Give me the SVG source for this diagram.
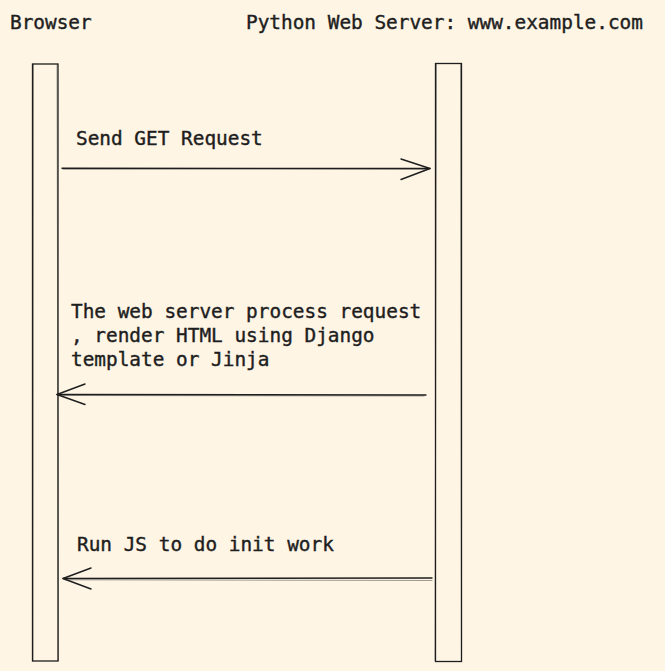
<svg xmlns="http://www.w3.org/2000/svg" width="665" height="671" viewBox="0 0 665 671">
<style>
.bg{fill:#fef5e5}
.box{fill:none;stroke:#1e1e1e;stroke-width:1.3}
.sk{fill:none;stroke:#1e1e1e;stroke-width:0.6;opacity:0.7}
.ln{fill:none;stroke:#1e1e1e;stroke-width:1.4;stroke-linecap:round;stroke-linejoin:round}
.ln2{fill:none;stroke:#1e1e1e;stroke-width:0.7;opacity:0.6;stroke-linecap:round}
text{font-family:"DejaVu Sans Mono","Liberation Mono",monospace;font-size:19.4px;fill:#1e1e1e;stroke:#1e1e1e;stroke-width:0.4}
</style>
<rect class="bg" x="0" y="0" width="665" height="671"/>
<g id="browser">
<text x="10" y="29">Browser</text>
<rect class="box" x="32.5" y="64" width="25.5" height="597"/>
<path class="sk" d="M33.5 63.5 L33 661.5 M57 64.5 L58.5 661"/>
</g>
<g id="server">
<text x="246" y="29">Python Web Server: www.example.com</text>
<rect class="box" x="435.5" y="63.5" width="26" height="598"/>
<path class="sk" d="M436.5 64 L435 661 M460.5 63 L461.5 661.5"/>
</g>
<g id="connectors">
<g id="msg1">
<text x="76" y="145">Send GET Request</text>
<path class="ln" d="M62 168.3 L430 168.5"/>
<path class="ln2" d="M63 169.3 L428 169.2"/>
<path class="ln" d="M401 159 L430 168.5 L401 179.5"/>
</g>
<g id="msg2">
<text x="71" y="318">The web server process request</text>
<text x="71" y="342">, render HTML using Django</text>
<text x="71" y="366">template or Jinja</text>
<path class="ln" d="M426 395 L57 394.5"/>
<path class="ln2" d="M424 396 L59 395.5"/>
<path class="ln" d="M85 384 L57 394.5 L85 404.5"/>
</g>
<g id="msg3">
<text x="77" y="551">Run JS to do init work</text>
<path class="ln" d="M432 578 L63 578.5"/>
<path class="ln2" d="M432 580.5 L65 579.8"/>
<path class="ln" d="M91 568 L63 578.5 L91 589"/>
</g>
</g>
</svg>
